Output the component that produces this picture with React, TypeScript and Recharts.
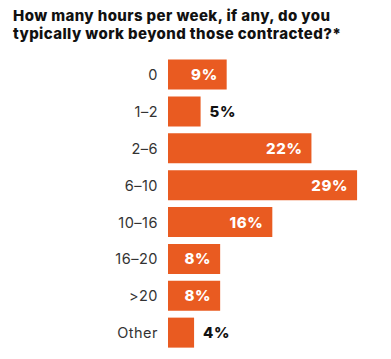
import React from "react";
import { BarChart, Bar, XAxis, YAxis, LabelList } from "recharts";

const categories = ["0", "1–2", "2–6", "6–10", "10–16", "16–20", ">20", "Other"];
const values = [9, 5, 22, 29, 16, 8, 8, 4];
const titleLines = [
  "How many hours per week, if any, do you",
  "typically work beyond those contracted?*",
];

const data = categories.map((c, i) => ({ name: c, value: values[i] }));

const ORANGE = "#E95B21";
const FONT = "Inter, 'Noto Sans', sans-serif";

const ValueLabel = (props: any) => {
  const { x, y, width, height, value } = props;
  const inside = value >= 6;
  const cy = y + height / 2;
  return (
    <text
      x={inside ? x + width - 9 : x + width + 9}
      y={cy}
      textAnchor={inside ? "end" : "start"}
      dominantBaseline="central"
      fill={inside ? "#ffffff" : "#111111"}
      fontFamily={FONT}
      fontWeight={800}
      fontSize={15}
      letterSpacing={0.6}
    >
      {value}%
    </text>
  );
};

export default function App() {
  return (
    <div
      style={{
        position: "absolute",
        left: 0,
        top: 0,
        width: 391,
        height: 359,
        background: "#ffffff",
      }}
    >
      <svg
        width={391}
        height={50}
        style={{ position: "absolute", left: 0, top: 0 }}
      >
        {titleLines.map((t, i) => (
          <text
            key={i}
            x={13}
            y={20.5 + i * 18.3}
            fontFamily={FONT}
            fontWeight={800}
            fontSize={15}
            letterSpacing={0.4}
            fill="#111111"
          >
            {t}
          </text>
        ))}
      </svg>
      <div style={{ position: "absolute", left: 0, top: 0 }}>
        <BarChart
          width={391}
          height={359}
          data={data}
          layout="vertical"
          margin={{ top: 56.5, right: 27.4, bottom: 7.5, left: 0 }}
        >
          <XAxis type="number" domain={[0, 30]} hide />
          <YAxis
            type="category"
            dataKey="name"
            width={168}
            axisLine={false}
            tickLine={false}
            tickMargin={4}
            tick={{
              fill: "#333333",
              fontSize: 14.5,
              fontFamily: FONT,
              letterSpacing: 0.5,
            }}
          />
          <Bar
            dataKey="value"
            fill={ORANGE}
            barSize={30}
            isAnimationActive={false}
          >
            <LabelList dataKey="value" content={<ValueLabel />} />
          </Bar>
        </BarChart>
      </div>
    </div>
  );
}
